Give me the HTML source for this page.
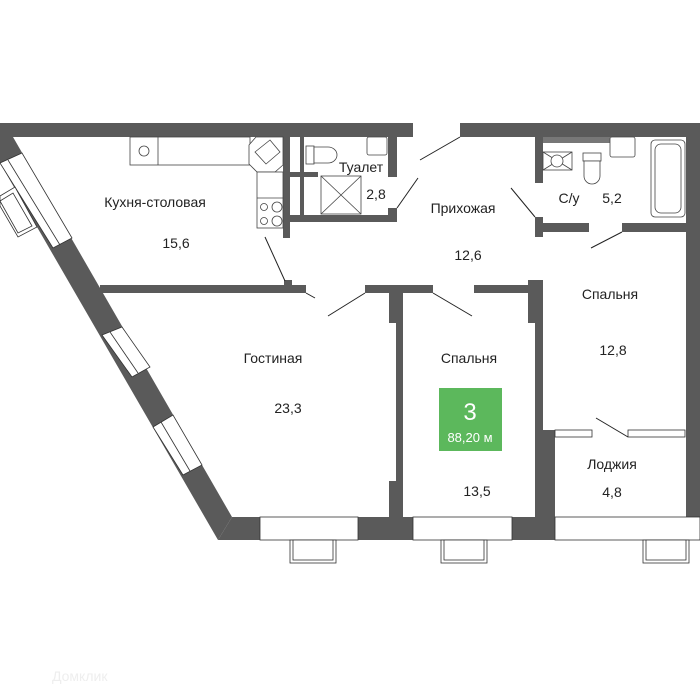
<!DOCTYPE html>
<html><head><meta charset="utf-8"><style>
html,body{margin:0;padding:0;background:#fff;}
svg{display:block;}
text{font-family:"Liberation Sans","DejaVu Sans",sans-serif;fill:#222;font-size:14px;}
</style></head><body>
<svg width="700" height="700" viewBox="0 0 700 700" xmlns="http://www.w3.org/2000/svg">
<g fill="#5a5a5a">
<rect x="0" y="123" width="413" height="14"/>
<rect x="460" y="123" width="240" height="14"/>
<rect x="686" y="123" width="14" height="394"/>
<polygon points="218,540 700,540 700,517 232,517"/>
<polygon points="0,123 13,137 232,517 218,540 0,163"/>
<rect x="100" y="285" width="206" height="8"/>
<rect x="284" y="280" width="8" height="6"/>
<rect x="365" y="285" width="68" height="8"/>
<rect x="389" y="285" width="14" height="38"/>
<rect x="396" y="293" width="7" height="224"/>
<rect x="389" y="481" width="14" height="36"/>
<rect x="474" y="285" width="61" height="8"/>
<rect x="528" y="280" width="15" height="43"/>
<rect x="535" y="280" width="8" height="160"/>
<rect x="535" y="430" width="20" height="87"/>
<rect x="622" y="223" width="78" height="9"/>
<rect x="535" y="137" width="8" height="46"/>
<rect x="535" y="217" width="8" height="20"/>
<rect x="535" y="223" width="54" height="9"/>
<rect x="543" y="137" width="67" height="6" fill="#777"/>
<rect x="388" y="137" width="9" height="40"/>
<rect x="283" y="137" width="7" height="101"/>
<rect x="300" y="137" width="4" height="35"/>
<rect x="300" y="177" width="4" height="40"/>
<rect x="290" y="172" width="28" height="5"/>
<rect x="283" y="215" width="114" height="7"/>
<rect x="388" y="208" width="9" height="14"/>
</g>
<!-- diagonal windows -->
<g fill="#fff" stroke="#333" stroke-width="0.8">
<polygon points="0,163 22,153 72,238 53,248"/>
<polygon points="102,335 122,327 150,367 132,377"/>
<polygon points="153,427 173,415 202,465 183,475"/>
<line x1="8" y1="160" x2="60" y2="245"/>
<line x1="110" y1="332" x2="138" y2="373"/>
<line x1="161" y1="422" x2="190" y2="471"/>
<polygon points="0,196 15,187 37,227 18,237 0,206"/>
<polygon points="0,201 13,193 32,226 18,233"/>
</g>
<g fill="#fff" stroke="#333" stroke-width="0.8">
<rect x="260" y="517" width="98" height="23"/>
<rect x="413" y="517" width="99" height="23"/>
<rect x="555" y="517" width="145" height="23"/>
<rect x="290" y="540" width="46" height="23"/>
<rect x="293" y="540" width="40" height="20"/>
<rect x="441" y="540" width="46" height="23"/>
<rect x="444" y="540" width="40" height="20"/>
<rect x="643" y="540" width="46" height="23"/>
<rect x="646" y="540" width="40" height="20"/>
<rect x="555" y="430" width="37" height="7"/>
<rect x="628" y="430" width="57" height="7"/>
</g>
<g stroke="#222" stroke-width="1">
<line x1="265" y1="237" x2="285" y2="281"/>
<line x1="306" y1="293" x2="315" y2="298"/>
<line x1="328" y1="316" x2="365" y2="293"/>
<line x1="433" y1="293" x2="472" y2="316"/>
<line x1="420" y1="160" x2="460" y2="137"/>
<line x1="397" y1="208" x2="418" y2="178"/>
<line x1="511" y1="188" x2="535" y2="217"/>
<line x1="591" y1="248" x2="622" y2="232"/>
<line x1="596" y1="418" x2="628" y2="437"/>
</g>
<g fill="#fff" stroke="#444" stroke-width="0.8">
<rect x="130" y="137" width="120" height="28"/>
<line x1="158" y1="137" x2="158" y2="165"/>
<circle cx="144" cy="151" r="5"/>
<polygon points="256,137 283,137 283,165 275,172 257,172 249,164 249,145"/>
<polygon points="255,152 270,140 280,152 266,164"/>
<rect x="257" y="172" width="26" height="56"/>
<line x1="257" y1="198" x2="283" y2="198"/>
<circle cx="264" cy="207" r="3.5"/><circle cx="277" cy="207" r="5"/>
<circle cx="264" cy="221" r="3.5"/><circle cx="277" cy="221" r="5"/>
<rect x="306" y="146" width="8" height="18"/>
<path d="M314,147 h14 a9,8 0 0 1 0,16 h-14 z"/>
<rect x="367" y="137" width="20" height="18" rx="2"/>
<rect x="321" y="176" width="40" height="38"/>
<line x1="321" y1="176" x2="361" y2="214"/><line x1="361" y1="176" x2="321" y2="214"/>
<rect x="543" y="152" width="29" height="18"/>
<line x1="543" y1="152" x2="572" y2="170"/><line x1="572" y1="152" x2="543" y2="170"/>
<circle cx="557" cy="161" r="6"/>
<rect x="583" y="153" width="18" height="8"/>
<path d="M584,161 h16 v15 a8,8 0 0 1 -16,0 z"/>
<rect x="610" y="137" width="25" height="20" rx="2"/>
<rect x="651" y="140" width="34" height="77" rx="4"/>
<rect x="655" y="144" width="26" height="69" rx="6"/>
</g>
<rect x="439" y="388" width="63" height="63" fill="#5cb85c"/>
<text x="470" y="420" text-anchor="middle" style="fill:#fff;font-size:24px">3</text>
<text x="470" y="442" text-anchor="middle" style="fill:#fff;font-size:13px">88,20 м</text>
<g text-anchor="middle">
<text x="155" y="207">Кухня-столовая</text>
<text x="176" y="248">15,6</text>
<text x="361" y="172">Туалет</text>
<text x="376" y="199">2,8</text>
<text x="463" y="213">Прихожая</text>
<text x="468" y="260">12,6</text>
<text x="569" y="203">С/у</text>
<text x="612" y="203">5,2</text>
<text x="610" y="299">Спальня</text>
<text x="613" y="355">12,8</text>
<text x="273" y="363">Гостиная</text>
<text x="288" y="413">23,3</text>
<text x="469" y="363">Спальня</text>
<text x="477" y="496">13,5</text>
<text x="612" y="469">Лоджия</text>
<text x="612" y="497">4,8</text>
</g>
<text x="52" y="681" style="fill:#eee;font-size:14px">Домклик</text>
</svg>
</body></html>
